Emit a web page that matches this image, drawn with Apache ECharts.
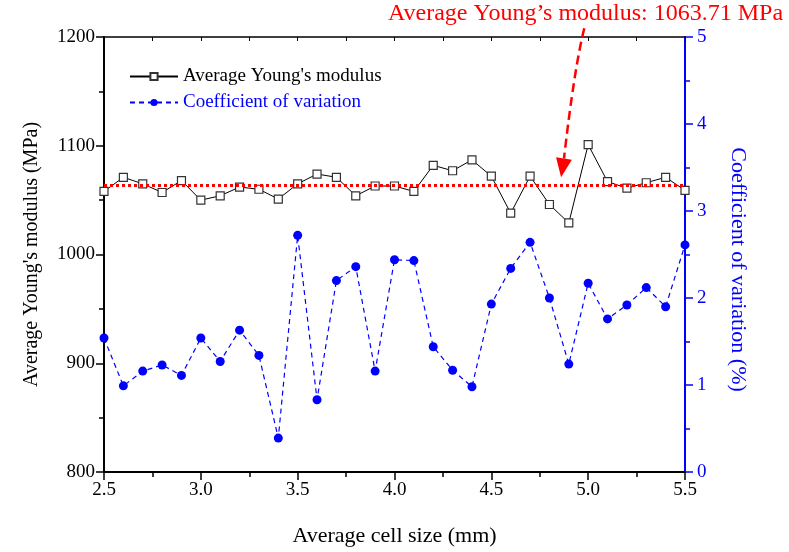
<!DOCTYPE html>
<html>
<head>
<meta charset="utf-8">
<script src="https://cdn.jsdelivr.net/npm/echarts@6/dist/echarts.min.js"></script>
<style>html,body{margin:0;padding:0;background:#fff}#c{width:789px;height:552px}</style>
</head>
<body>
<div id="c"></div>
<script>
// ---- data ----
const cellSize = [2.5,2.6,2.7,2.8,2.9,3.0,3.1,3.2,3.3,3.4,3.5,3.6,3.7,3.8,3.9,4.0,4.1,4.2,4.3,4.4,4.5,4.6,4.7,4.8,4.9,5.0,5.1,5.2,5.3,5.4,5.5];
const youngModulus = [1058,1071,1065,1057,1068,1050,1054,1062,1060,1051,1065,1074,1071,1054,1063,1063,1058,1082,1077,1087,1072,1038,1072,1046,1029,1101,1067,1061,1066,1071,1059];
const coefVariation = [1.54,0.99,1.16,1.23,1.11,1.54,1.27,1.63,1.34,0.39,2.72,0.83,2.20,2.36,1.16,2.44,2.43,1.44,1.17,0.98,1.93,2.34,2.64,2.00,1.24,2.17,1.76,1.92,2.12,1.90,2.61];
const averageModulus = 1063.71;
const seriesNames = ["Average Young's modulus", "Coefficient of variation"];
const axisTitles = ["Average cell size (mm)", "Average Young's modulus (MPa)", "Coefficient of variation (%)"];
const annotationText = "Average Young\u2019s modulus: 1063.71 MPa";
const arrowFrom = [4.98, 1208];
const arrowTo = [4.86, 1071];

const FONT = "'Liberation Serif', 'Times New Roman', serif";
const BLUE = '#0000ff';
const chart = echarts.init(document.getElementById('c'), null, {renderer: 'canvas'});

const pairs1 = cellSize.map((x, i) => [x, youngModulus[i]]);
const pairs2 = cellSize.map((x, i) => [x, coefVariation[i]]);

chart.setOption({
  animation: false,
  backgroundColor: '#fff',
  grid: {left: 104, right: 104, top: 37, bottom: 80},
  legend: {
    left: 124, top: 62, orient: 'vertical', itemWidth: 48, itemHeight: 9, itemGap: 7,
    textStyle: {fontFamily: FONT, fontSize: 19},
    data: [
      {name: seriesNames[0], textStyle: {color: '#000'}},
      {name: seriesNames[1], textStyle: {color: BLUE}}
    ]
  },
  xAxis: [{
    type: 'value', min: 2.5, max: 5.5, interval: 0.5, position: 'bottom',
    name: axisTitles[0], nameLocation: 'middle', nameGap: 53,
    nameTextStyle: {fontFamily: FONT, fontSize: 22, color: '#000'},
    axisLine: {lineStyle: {color: '#000', width: 2}},
    axisTick: {length: 8, lineStyle: {color: '#000', width: 1.5}},
    minorTick: {show: true, splitNumber: 2, length: 5, lineStyle: {color: '#000', width: 1.5}},
    axisLabel: {fontFamily: FONT, fontSize: 19, color: '#000', margin: 9, formatter: v => v.toFixed(1)},
    splitLine: {show: false}
  }, {
    type: 'value', min: 2.5, max: 5.5, interval: 0.5, position: 'top',
    axisLine: {lineStyle: {color: '#000', width: 1.5}},
    axisTick: {inside: true, length: 4, lineStyle: {color: '#000', width: 1}},
    minorTick: {show: true, splitNumber: 2, length: 4, lineStyle: {color: '#000', width: 1}},
    axisLabel: {show: false}, splitLine: {show: false}
  }],
  yAxis: [{
    type: 'value', min: 800, max: 1200, interval: 100, position: 'left',
    name: axisTitles[1], nameLocation: 'middle', nameGap: 62, nameRotate: 90,
    nameTextStyle: {fontFamily: FONT, fontSize: 20, color: '#000'},
    axisLine: {show: true, lineStyle: {color: '#000', width: 2}},
    axisTick: {show: true, length: 8, lineStyle: {color: '#000', width: 1.5}},
    minorTick: {show: true, splitNumber: 2, length: 5, lineStyle: {color: '#000', width: 1.5}},
    axisLabel: {fontFamily: FONT, fontSize: 19, color: '#000', margin: 9, formatter: v => String(v)},
    splitLine: {show: false}
  }, {
    type: 'value', min: 0, max: 5, interval: 1, position: 'right',
    name: axisTitles[2], nameLocation: 'middle', nameGap: 42, nameRotate: -90,
    nameTextStyle: {fontFamily: FONT, fontSize: 22, color: BLUE, padding: [0, 0, 0, 30]},
    axisLine: {show: true, lineStyle: {color: BLUE, width: 2}},
    axisTick: {show: true, length: 8, lineStyle: {color: BLUE, width: 1.5}},
    minorTick: {show: true, splitNumber: 2, length: 5, lineStyle: {color: BLUE, width: 1.5}},
    axisLabel: {fontFamily: FONT, fontSize: 19, color: BLUE, margin: 12},
    splitLine: {show: false}
  }],
  series: [{
    name: seriesNames[0], type: 'line', xAxisIndex: 0, yAxisIndex: 0, data: pairs1,
    symbol: 'rect', symbolSize: 8, z: 3,
    lineStyle: {color: '#000', width: 1},
    itemStyle: {color: '#fff', borderColor: '#333', borderWidth: 1.2},
    markLine: {
      silent: true, symbol: 'none', label: {show: false},
      lineStyle: {color: '#ff0000', type: [3, 3], width: 3},
      data: [{yAxis: averageModulus}]
    }
  }, {
    name: seriesNames[1], type: 'line', xAxisIndex: 0, yAxisIndex: 1, data: pairs2,
    symbol: 'circle', symbolSize: 9, z: 2,
    lineStyle: {color: BLUE, width: 1.2, type: [5, 4]},
    itemStyle: {color: BLUE}
  }]
});

// annotation arrow anchored to data coordinates
const a0 = chart.convertToPixel({xAxisIndex: 0, yAxisIndex: 0}, arrowFrom);
const a1 = chart.convertToPixel({xAxisIndex: 0, yAxisIndex: 0}, arrowTo);
const dx = a1[0] - a0[0], dy = a1[1] - a0[1];
const len = Math.hypot(dx, dy), ux = dx / len, uy = dy / len;
const headLen = 19, headHalf = 8;
const bx = a1[0] - ux * headLen, by = a1[1] - uy * headLen;
chart.setOption({
  graphic: [{
    type: 'bezierCurve', z: 10,
    shape: {x1: a0[0], y1: a0[1], x2: bx, y2: by, cpx1: a0[0] - 10, cpy1: a0[1] + 40},
    style: {stroke: '#ff0000', lineWidth: 2.5, lineDash: [9, 5], fill: null}
  }, {
    type: 'polygon', z: 10,
    shape: {points: [[a1[0], a1[1]], [bx - uy * headHalf, by + ux * headHalf], [bx + uy * headHalf, by - ux * headHalf]]},
    style: {fill: '#ff0000'}
  }, {
    type: 'text', left: 388, top: 2, z: 10,
    style: {text: annotationText, fontFamily: FONT, fontSize: 24, fill: '#ff0000'}
  }]
});
</script>
</body>
</html>
